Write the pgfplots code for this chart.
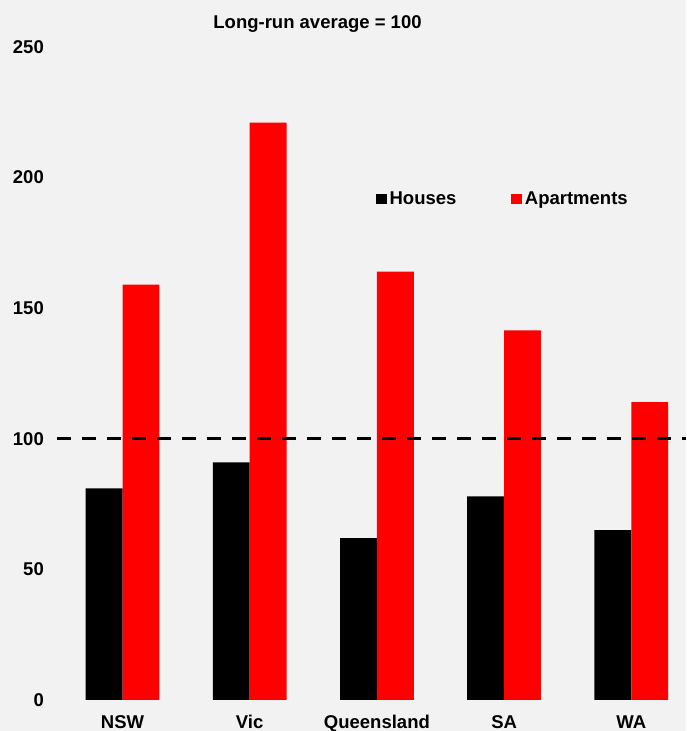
\documentclass[border=0pt]{standalone}
\usepackage{fontspec}
\setmainfont{Liberation Sans}
\usepackage{pgfplots}
\pgfplotsset{compat=1.18}
\definecolor{bg}{HTML}{F2F2F2}
\definecolor{apt}{HTML}{FF0000}
\begin{document}
\begin{tikzpicture}[x=1pt,y=1pt]
\fill[bg] (0,0) rectangle (686,731);
\useasboundingbox (0,0) rectangle (686,731);
\node[anchor=base, inner sep=0pt, font=\fontsize{18.5pt}{22pt}\selectfont\bfseries] at (317.5,702.5) {Long-run average = 100};
\begin{axis}[at={(57pt,31pt)}, anchor=south west, scale only axis,
  width=629pt, height=653pt,
  ymin=0, ymax=250, xmin=-0.515, xmax=4.43,
  axis line style={draw=none}, tick style={draw=none},
  ytick={0,50,100,150,200,250},
  xtick={0,1,2,3,4}, xticklabels={NSW,Vic,Queensland,SA,WA},
  ybar=0pt, bar width=0.29,
  legend image code/.code={\fill[#1] (0pt,-5pt) rectangle (10.5pt,5.5pt);},
  tick label style={font=\fontsize{18.5pt}{22pt}\selectfont\bfseries},
  /pgf/number format/assume math mode=true,
  yticklabel style={anchor=east, inner sep=0pt, xshift=-13pt},
  xticklabel style={anchor=base, inner sep=0pt, text depth=0pt, yshift=-24.5pt},
  clip=false,
  legend columns=2,
  legend style={at={(axis description cs:0.507,0.767)}, anchor=west,
    draw=none, fill=none, inner sep=0pt,
    nodes={inner sep=0pt},
    font=\fontsize{18.5pt}{22pt}\selectfont\bfseries,
    /tikz/every odd column/.append style={column sep=3pt},
    /tikz/every even column/.append style={column sep=55pt}},
  legend cell align=left,
]
\addplot[fill=black, draw=none] coordinates {(0,81) (1,91) (2,62) (3,78) (4,65)};
\addlegendentry{Houses}
\addplot[fill=apt, draw=none] coordinates {(0,159) (1,221) (2,164) (3,141.5) (4,114)};
\addlegendentry{Apartments}
\addplot[sharp plot, black, line width=3.2pt, dash pattern=on 14pt off 11pt, forget plot] coordinates {(-0.515,100) (4.43,100)};
\end{axis}
\end{tikzpicture}
\end{document}
